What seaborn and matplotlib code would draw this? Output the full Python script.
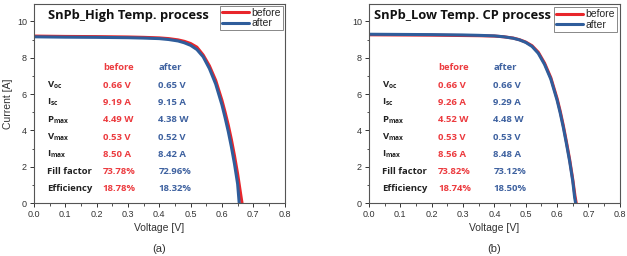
import numpy as np
import pandas as pd
import matplotlib; matplotlib.use("Agg")
import matplotlib.pyplot as plt
import seaborn as sns
from matplotlib.ticker import MultipleLocator

# I-V curves
V_A_BEFORE = [0.0, 0.1, 0.2, 0.3, 0.35, 0.4, 0.43, 0.46, 0.48, 0.50, 0.52, 0.54, 0.56, 0.58, 0.60, 0.61, 0.62, 0.63, 0.64, 0.65, 0.66, 0.664]
I_A_BEFORE = [9.19, 9.17, 9.16, 9.14, 9.12, 9.09, 9.05, 8.98, 8.90, 8.78, 8.58, 8.15, 7.55, 6.75, 5.65, 5.00, 4.30, 3.50, 2.60, 1.60, 0.45, 0.0]
V_A_AFTER = [0.0, 0.1, 0.2, 0.3, 0.35, 0.4, 0.43, 0.46, 0.48, 0.50, 0.52, 0.54, 0.56, 0.58, 0.60, 0.61, 0.62, 0.63, 0.64, 0.65, 0.655]
I_A_AFTER = [9.15, 9.13, 9.12, 9.10, 9.08, 9.05, 9.00, 8.92, 8.82, 8.68, 8.45, 8.05, 7.40, 6.55, 5.40, 4.70, 3.95, 3.10, 2.15, 1.05, 0.0]

V_B_BEFORE = [0.0, 0.1, 0.2, 0.3, 0.35, 0.4, 0.43, 0.46, 0.48, 0.50, 0.52, 0.54, 0.56, 0.58, 0.60, 0.61, 0.62, 0.63, 0.64, 0.65, 0.657, 0.661]
I_B_BEFORE = [9.26, 9.25, 9.24, 9.22, 9.21, 9.19, 9.15, 9.08, 8.99, 8.86, 8.66, 8.30, 7.70, 6.90, 5.75, 5.05, 4.25, 3.35, 2.40, 1.30, 0.40, 0.0]
V_B_AFTER = [0.0, 0.1, 0.2, 0.3, 0.35, 0.4, 0.43, 0.46, 0.48, 0.50, 0.52, 0.54, 0.56, 0.58, 0.60, 0.61, 0.62, 0.63, 0.64, 0.65, 0.656, 0.659]
I_B_AFTER = [9.29, 9.28, 9.27, 9.25, 9.23, 9.20, 9.15, 9.07, 8.98, 8.84, 8.62, 8.24, 7.63, 6.82, 5.66, 4.95, 4.15, 3.25, 2.30, 1.20, 0.30, 0.0]

TITLES = ["SnPb_High Temp. process", "SnPb_Low Temp. CP process"]
PANEL_TAGS = ["(a)", "(b)"]

ROW_LABELS = ["V$_{oc}$", "I$_{sc}$", "P$_{max}$", "V$_{max}$", "I$_{max}$", "Fill factor", "Efficiency"]
A_BEFORE_VALS = ["0.66 V", "9.19 A", "4.49 W", "0.53 V", "8.50 A", "73.78%", "18.78%"]
A_AFTER_VALS = ["0.65 V", "9.15 A", "4.38 W", "0.52 V", "8.42 A", "72.96%", "18.32%"]
B_BEFORE_VALS = ["0.66 V", "9.26 A", "4.52 W", "0.53 V", "8.56 A", "73.82%", "18.74%"]
B_AFTER_VALS = ["0.66 V", "9.29 A", "4.48 W", "0.53 V", "8.48 A", "73.12%", "18.50%"]

RED = "#e8262b"
BLUE = "#2f5d9b"
RED_TXT = "#ec3b3f"
BLUE_TXT = "#3f62a0"

sns.set_style("ticks")
plt.rcParams["font.family"] = ["Liberation Sans", "DejaVu Sans"]
plt.rcParams["mathtext.fontset"] = "custom"
plt.rcParams["mathtext.rm"] = "Open Sans:bold"
plt.rcParams["mathtext.it"] = "Open Sans:bold"
plt.rcParams["mathtext.bf"] = "Open Sans:bold"

fig = plt.figure(figsize=(6.27, 2.56), dpi=100)
axes = [fig.add_axes([0.054, 0.207, 0.400, 0.777]),
        fig.add_axes([0.5885, 0.207, 0.400, 0.777])]

panels = [
    (V_A_BEFORE, I_A_BEFORE, V_A_AFTER, I_A_AFTER, A_BEFORE_VALS, A_AFTER_VALS),
    (V_B_BEFORE, I_B_BEFORE, V_B_AFTER, I_B_AFTER, B_BEFORE_VALS, B_AFTER_VALS),
]
title_x = [0.046, 0.016]
leg_pad = [0.15, 0.3]

for k, (ax, (vb, ib, va, ia, bvals, avals)) in enumerate(zip(axes, panels)):
    df = pd.concat([
        pd.DataFrame({"V": vb, "I": ib, "state": "before"}),
        pd.DataFrame({"V": va, "I": ia, "state": "after"}),
    ])
    sns.lineplot(data=df, x="V", y="I", hue="state", palette={"before": RED, "after": BLUE},
                 sort=False, estimator=None, lw=2.2, ax=ax)
    ax.set_xlim(0, 0.8)
    ax.set_ylim(0, 10.95)
    ax.xaxis.set_major_locator(MultipleLocator(0.1))
    ax.xaxis.set_minor_locator(MultipleLocator(0.05))
    ax.yaxis.set_major_locator(MultipleLocator(2))
    ax.yaxis.set_minor_locator(MultipleLocator(1))
    ax.xaxis.set_major_formatter(plt.FormatStrFormatter("%.1f"))
    ax.tick_params(which="major", length=3, width=0.7, labelsize=6.5, colors="#333333", pad=2)
    ax.tick_params(which="minor", length=1.8, width=0.6, colors="#333333")
    for s in ax.spines.values():
        s.set_linewidth(0.8)
        s.set_color("#555555")
    ax.set_xlabel("Voltage [V]", fontsize=7.5, color="#333333", labelpad=3)
    ax.set_ylabel("Current [A]" if k == 0 else "", fontsize=7.5, color="#333333", labelpad=3)

    ax.text(title_x[k], 10.3, TITLES[k], fontsize=9.3, fontweight="bold",
            family=["Open Sans", "DejaVu Sans"], va="center", ha="left", color="#111111")

    leg = ax.legend(loc="upper right", fontsize=7.5, frameon=True, fancybox=False,
                    handlelength=2.6, handletextpad=0.2, borderpad=0.2, labelspacing=0.05,
                    borderaxespad=leg_pad[k], framealpha=1)
    leg.get_frame().set_edgecolor("#888888")
    leg.get_frame().set_linewidth(0.7)
    leg.set_zorder(10)
    for line in leg.get_lines():
        line.set_linewidth(2.2)

    tfont = dict(fontsize=6.8, fontweight="bold", family=["Open Sans", "DejaVu Sans"], va="center")
    ax.text(0.22, 7.47, "before", color=RED_TXT, **tfont)
    ax.text(0.397, 7.47, "after", color=BLUE_TXT, **tfont)
    rows_y = [6.48, 5.55, 4.58, 3.63, 2.69, 1.72, 0.78]
    for lab, bv, av, y in zip(ROW_LABELS, bvals, avals, rows_y):
        ax.text(0.043, y, lab, color="#222222", **tfont)
        ax.text(0.22, y, bv, color=RED_TXT, **tfont)
        ax.text(0.397, y, av, color=BLUE_TXT, **tfont)

    ax.text(0.5, -0.232, PANEL_TAGS[k], transform=ax.transAxes, ha="center", va="center",
            fontsize=8, color="#333333")

fig.savefig("out.png", dpi=100)
